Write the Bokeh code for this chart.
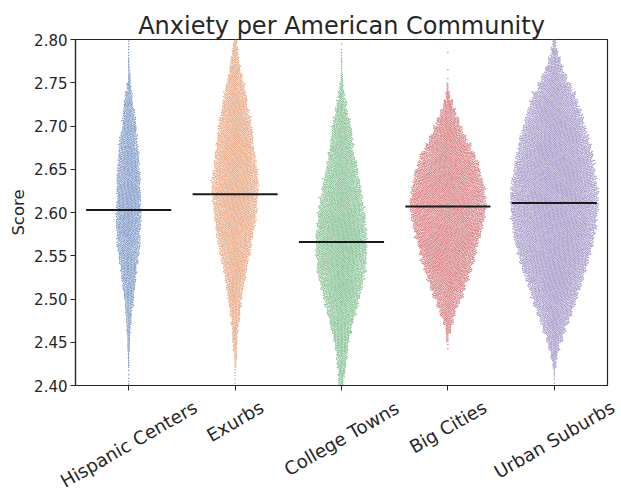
import math
import numpy as np
from bokeh.plotting import figure
from bokeh.layouts import column
from bokeh.models import Range1d, FixedTicker
from bokeh.core.properties import value
from bokeh.embed import file_html
from bokeh.resources import INLINE

# ---------------- data ----------------
categories = ["Hispanic Centers", "Exurbs", "College Towns", "Big Cities", "Urban Suburbs"]
bin_start = 2.40      # lower edge of first score bin
bin_step = 0.01       # width of each score bin (40 bins: 2.40 .. 2.80)

# number of points per score bin, bottom (2.40-2.41) to top (2.79-2.80)
hispanic_counts = [3, 2, 5, 6, 10, 11, 15, 19, 24, 31, 39, 47, 55, 63, 71, 79, 86, 88, 95, 97,
                   96, 94, 95, 89, 87, 81, 79, 71, 64, 57, 51, 43, 35, 27, 17, 10, 6, 5, 3, 3]
exurbs_counts = [2, 3, 7, 11, 15, 19, 24, 31, 39, 47, 57, 67, 79, 91, 103, 117, 127, 139, 151, 161,
                 167, 175, 179, 177, 171, 163, 157, 147, 139, 131, 121, 107, 97, 85, 71, 57, 43, 31, 23, 15]
college_counts = [19, 27, 35, 41, 51, 63, 79, 93, 109, 127, 143, 161, 171, 185, 191, 199, 201, 199, 191, 185,
                  171, 159, 149, 135, 123, 113, 99, 89, 81, 75, 63, 47, 37, 25, 15, 9, 4, 5, 3, 1]
bigcities_counts = [0, 0, 0, 0, 2, 9, 21, 39, 59, 83, 111, 135, 159, 183, 203, 223, 239, 255, 267, 279,
                    287, 287, 279, 267, 255, 231, 207, 175, 143, 111, 87, 59, 39, 17, 7, 1, 1, 0, 1, 0]
suburbs_counts = [2, 5, 15, 27, 43, 63, 87, 111, 135, 159, 183, 207, 231, 255, 275, 291, 307, 319, 331, 339,
                  343, 343, 339, 331, 323, 311, 299, 283, 267, 247, 227, 207, 183, 159, 127, 95, 69, 47, 27, 13]
all_counts = [hispanic_counts, exurbs_counts, college_counts, bigcities_counts, suburbs_counts]

mean_scores = [2.603, 2.621, 2.566, 2.607, 2.611]
y_ticks = [2.40, 2.45, 2.50, 2.55, 2.60, 2.65, 2.70, 2.75, 2.80]
y_tick_labels = ["2.40", "2.45", "2.50", "2.55", "2.60", "2.65", "2.70", "2.75", "2.80"]
palette = ["#4c72b0", "#dd8452", "#55a868", "#c44e52", "#8172b3"]
title_text = "Anxiety per American Community"

# ---------------- layout ----------------
W, H = 621, 492
LEFT, TOP = 75, 39
VIS_W, VIS_H = 532, 346             # axes box
RIGHT = W - LEFT - VIS_W
BOTTOM = 10                          # tick marks only; labels live in the strip below
H1 = TOP + VIS_H + BOTTOM
H2 = H - H1
NCAT = len(categories)
Y0, Y1 = 2.40, 2.80
PX_X = VIS_W / NCAT                  # px per category unit
PX_Y = VIS_H / (Y1 - Y0)             # px per score unit
DOT = 1.5
TEXT = "#262626"
FONT = "DejaVu Sans"


def swarm_offsets(counts):
    """Lay the binned scores out as a beeswarm (offsets in px)."""
    ys = []
    for i, c in enumerate(counts):
        lo = bin_start + i * bin_step
        for k in range(c):
            ys.append(lo + (k + 0.5) / c * bin_step)
    ys = np.array(ys)
    yp = ys * PX_Y
    xs = np.zeros(len(ys))
    start = 0
    d2 = DOT * DOT
    for i in range(len(ys)):
        while yp[i] - yp[start] >= DOT:
            start += 1
        if start == i:
            continue
        nx = xs[start:i]
        dy = yp[i] - yp[start:i]
        half = np.sqrt(np.maximum(d2 - dy * dy, 0.0))
        lo_ = nx - half
        hi_ = nx + half
        cand = np.concatenate(([0.0], lo_, hi_))
        inside = (cand[:, None] > lo_[None, :] + 1e-9) & (cand[:, None] < hi_[None, :] - 1e-9)
        valid = cand[~inside.any(axis=1)]
        bias = (valid > 0) if (i % 2) else (valid < 0)
        xs[i] = valid[np.argmin(np.abs(valid) + 1e-6 * bias)]
    return xs, ys


# ---------------- main axes ----------------
p = figure(width=W, height=H1, output_backend="svg", toolbar_location=None,
           x_range=Range1d(0, NCAT), y_range=Range1d(Y0, Y1),
           min_border_left=LEFT, min_border_right=RIGHT,
           min_border_top=TOP, min_border_bottom=BOTTOM)
p.frame_align = False
p.background_fill_color = "white"
p.border_fill_color = "white"
p.outline_line_color = TEXT
p.outline_line_width = 1.2
p.xgrid.visible = False
p.ygrid.visible = False

for i, counts in enumerate(all_counts):
    xo, ys = swarm_offsets(counts)
    p.scatter(i + 0.5 + xo / PX_X, ys, size=DOT, color=palette[i], alpha=0.75, line_width=0)

for i, m in enumerate(mean_scores):
    p.segment(x0=[i + 0.1], y0=[m], x1=[i + 0.9], y1=[m], line_color="#1a1a1a", line_width=2)

# y axis
p.yaxis.ticker = FixedTicker(ticks=y_ticks)
p.yaxis.major_label_overrides = {t: l for t, l in zip(y_ticks, y_tick_labels)}
p.yaxis.major_label_text_font = FONT
p.yaxis.major_label_text_font_size = "15px"
p.yaxis.major_label_text_color = TEXT
p.yaxis.major_tick_out = 5
p.yaxis.major_tick_in = 0
p.yaxis.minor_tick_out = 0
p.yaxis.minor_tick_in = 0
p.yaxis.major_label_standoff = 3
p.yaxis.axis_line_color = TEXT
p.yaxis.axis_line_width = 1.2
p.yaxis.major_tick_line_color = TEXT
p.yaxis.axis_label = "Score"
p.yaxis.axis_label_text_font = FONT
p.yaxis.axis_label_text_font_size = "16.5px"
p.yaxis.axis_label_text_font_style = "normal"
p.yaxis.axis_label_text_color = TEXT
p.yaxis.axis_label_standoff = 3

# x axis: tick marks only (rotated labels drawn in the strip below)
centers = [i + 0.5 for i in range(NCAT)]
p.xaxis.ticker = FixedTicker(ticks=centers)
p.xaxis.major_label_overrides = {c: "" for c in centers}
p.xaxis.major_label_text_font_size = "1px"
p.xaxis.major_label_standoff = 0
p.xaxis.major_tick_out = 5
p.xaxis.major_tick_in = 0
p.xaxis.minor_tick_out = 0
p.xaxis.minor_tick_in = 0
p.xaxis.axis_line_color = TEXT
p.xaxis.axis_line_width = 1.2
p.xaxis.major_tick_line_color = TEXT

p.title.text = title_text
p.title.text_font = FONT
p.title.text_font_size = "24px"
p.title.text_font_style = "normal"
p.title.text_color = TEXT
p.title.align = "center"
p.title.standoff = 0

# ---------------- strip with rotated category labels ----------------
# same horizontal mapping as the axes above; vertical unit = page pixels
q = figure(width=W, height=H2, output_backend="svg", toolbar_location=None,
           x_range=Range1d(-LEFT / PX_X, (W - LEFT) / PX_X), y_range=Range1d(-H, -H1),
           min_border_left=0, min_border_right=0, min_border_top=0, min_border_bottom=0,
           x_axis_type=None, y_axis_type=None)
q.frame_align = False
q.outline_line_color = None
q.background_fill_color = "white"
q.border_fill_color = "white"
q.xgrid.visible = False
q.ygrid.visible = False

ADV = {"H": .752, "i": .278, "s": .521, "p": .635, "a": .613, "n": .634, "c": .55, " ": .318,
       "C": .698, "e": .615, "t": .392, "r": .411, "E": .632, "x": .592, "u": .634, "b": .635,
       "o": .612, "l": .278, "g": .635, "T": .611, "w": .818, "B": .686, "S": .635, "U": .732}
XFS = 18.2
ang = math.radians(30)
box_top = H1 + 1.0                  # top of the rotated text boxes (page px)
label_y = []
for name in categories:
    L = sum(ADV.get(ch, 0.6) for ch in name) * XFS
    bbox_h = L * math.sin(ang) + 1.164 * XFS * math.cos(ang)
    label_y.append(-(box_top + bbox_h / 2))
q.text(x=centers, y=label_y, text=categories, angle=ang,
       text_align="center", text_baseline="middle",
       text_font=value(FONT), text_font_size=value(f"{XFS}px"), text_color=TEXT)

open("out.html", "w").write(file_html(column(p, q, spacing=0), INLINE))
